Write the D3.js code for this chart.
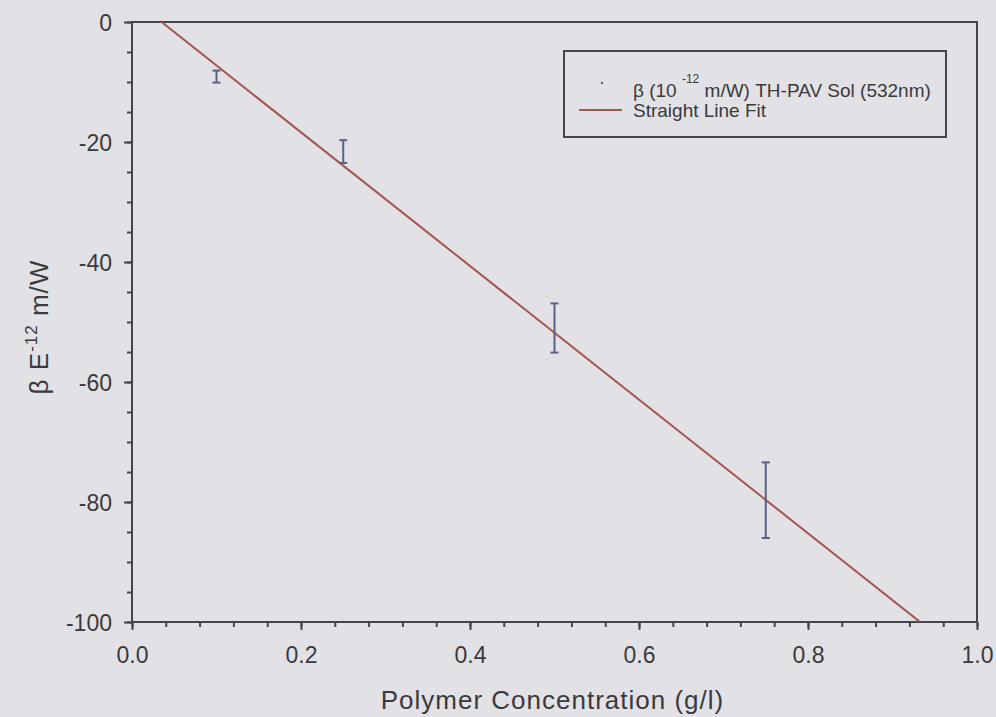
<!DOCTYPE html>
<html>
<head>
<meta charset="utf-8">
<script src="https://cdn.jsdelivr.net/npm/d3@7"></script>
<style>
  html, body { margin: 0; padding: 0; background: #e2e1e5; }
  svg { display: block; }
  text { font-family: "Liberation Sans", Arial, sans-serif; fill: #3a3a3d; }
</style>
</head>
<body>
<svg id="chart" width="996" height="717"></svg>
<script>
// Two-photon absorption coefficient versus polymer concentration
const concentration = [0.10, 0.25, 0.50, 0.75];     // g/l
const beta          = [-9.1, -21.6, -51.0, -79.7];  // 1e-12 m/W
const betaError     = [1.0, 1.9, 4.1, 6.3];

// Straight line fit: beta = intercept + slope * c
const fitIntercept = 3.9;
const fitSlope = -111.4;

const xTicks = [0.0, 0.2, 0.4, 0.6, 0.8, 1.0];
const yTicks = [0, -20, -40, -60, -80, -100];

const svg = d3.select("#chart");
const margin = { left: 132, right: 19, top: 22, bottom: 95 };
const W = 996, H = 717;

const x = d3.scaleLinear().domain([0, 1]).range([margin.left, W - margin.right]);
const y = d3.scaleLinear().domain([-100, 0]).range([H - margin.bottom, margin.top]);

const axisColor = "#45454a";
const font = "'Liberation Sans', Arial, sans-serif";

// frame
svg.append("rect")
  .attr("x", x(0)).attr("y", y(0))
  .attr("width", x(1) - x(0)).attr("height", y(-100) - y(0))
  .attr("fill", "none").attr("stroke", axisColor).attr("stroke-width", 2);

// minor ticks
const xMinor = d3.range(0, 1.0001, 0.04).map(v => +v.toFixed(2));
const yMinor = d3.range(-100, 0.0001, 5);

const gxMinor = svg.append("g").attr("transform", `translate(0,${y(-100)})`)
  .call(d3.axisBottom(x).tickValues(xMinor).tickSize(5).tickSizeOuter(0).tickFormat(""));
const gyMinor = svg.append("g").attr("transform", `translate(${x(0)},0)`)
  .call(d3.axisLeft(y).tickValues(yMinor).tickSize(5).tickSizeOuter(0).tickFormat(""));

// major ticks with labels (plain hyphen for negatives)
const gx = svg.append("g").attr("transform", `translate(0,${y(-100)})`)
  .call(d3.axisBottom(x).tickValues(xTicks).tickSize(8).tickSizeOuter(0)
    .tickPadding(17).tickFormat(d => d.toFixed(1)));
const gy = svg.append("g").attr("transform", `translate(${x(0)},0)`)
  .call(d3.axisLeft(y).tickValues(yTicks).tickSize(8).tickSizeOuter(0)
    .tickPadding(12).tickFormat(d => String(d)));

[gxMinor, gyMinor, gx, gy].forEach(g => {
  g.select(".domain").remove();
  g.selectAll("line").attr("stroke", axisColor).attr("stroke-width", 2);
  g.selectAll("text").attr("font-size", 23).attr("fill", "#3a3a3d")
    .style("font-family", font);
});
gy.selectAll("text").attr("dy", "0.35em");

// axis titles
svg.append("text")
  .attr("x", (x(0) + x(1)) / 2 - 2).attr("y", 709)
  .attr("text-anchor", "middle").attr("font-size", 26)
  .attr("letter-spacing", 1)
  .text("Polymer Concentration (g/l)");

const yt = svg.append("text")
  .attr("transform", `translate(48,${(y(0) + y(-100)) / 2 + 5}) rotate(-90)`)
  .attr("text-anchor", "middle").attr("font-size", 26).attr("letter-spacing", 1);
yt.append("tspan").text("β E");
yt.append("tspan").attr("dy", -11).attr("font-size", 17).text("-12");
yt.append("tspan").attr("dy", 11).text(" m/W");

// clip to plot area
svg.append("clipPath").attr("id", "plotClip").append("rect")
  .attr("x", x(0)).attr("y", y(0))
  .attr("width", x(1) - x(0)).attr("height", y(-100) - y(0));

// fit line
const fitColor = "#a4564e";
const fitPts = [0, 1].map(c => [c, fitIntercept + fitSlope * c]);
svg.append("path")
  .attr("clip-path", "url(#plotClip)")
  .attr("d", d3.line().x(d => x(d[0])).y(d => y(d[1]))(fitPts))
  .attr("stroke", fitColor).attr("stroke-width", 2).attr("fill", "none");

// error bars
const barColor = "#5b6088";
const pts = concentration.map((c, i) => ({ c, b: beta[i], e: betaError[i] }));
const eg = svg.append("g").attr("stroke", barColor).attr("stroke-width", 2);
const cap = 4;
pts.forEach(p => {
  eg.append("line").attr("x1", x(p.c)).attr("x2", x(p.c))
    .attr("y1", y(p.b + p.e)).attr("y2", y(p.b - p.e));
  [p.b + p.e, p.b - p.e].forEach(v => {
    eg.append("line").attr("x1", x(p.c) - cap).attr("x2", x(p.c) + cap)
      .attr("y1", y(v)).attr("y2", y(v));
  });
});

// legend
const lg = svg.append("g");
lg.append("rect").attr("x", 564).attr("y", 51).attr("width", 382).attr("height", 86)
  .attr("fill", "none").attr("stroke", axisColor).attr("stroke-width", 2);
lg.append("circle").attr("cx", 602).attr("cy", 83).attr("r", 1.2).attr("fill", barColor);
const l1 = lg.append("text").attr("x", 633).attr("y", 97).attr("font-size", 19);
l1.append("tspan").text("β (10 ");
l1.append("tspan").attr("dy", -14).attr("font-size", 12).text("-12");
l1.append("tspan").attr("dy", 14).text("  m/W) TH-PAV Sol (532nm)");
lg.append("line").attr("x1", 579).attr("x2", 622).attr("y1", 110).attr("y2", 110)
  .attr("stroke", fitColor).attr("stroke-width", 2);
lg.append("text").attr("x", 633).attr("y", 117).attr("font-size", 19).text("Straight Line Fit");
</script>
</body>
</html>
